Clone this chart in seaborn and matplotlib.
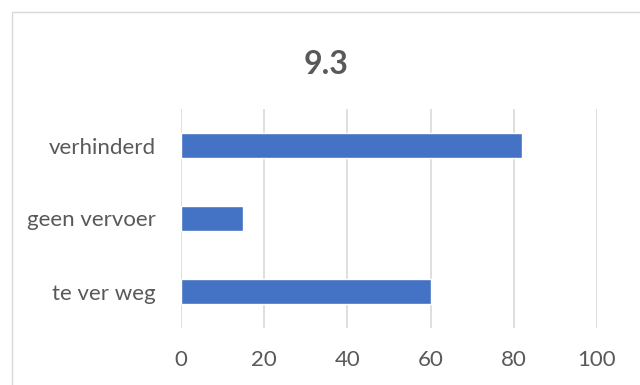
import matplotlib
matplotlib.use("Agg")
import matplotlib.pyplot as plt
import seaborn as sns
import pandas as pd
from matplotlib.patches import Rectangle

categories = ["verhinderd", "geen vervoer", "te ver weg"]
values = [82, 15, 60]
xticks = [0, 20, 40, 60, 80, 100]
title = "9.3"

sns.set_theme(style="white")
plt.rcParams['font.family'] = ['Lato', 'DejaVu Sans']

df = pd.DataFrame({"cat": categories, "val": values})

fig = plt.figure(figsize=(6.4, 3.85), dpi=100)
ax = fig.add_axes([181/640, 1-328/385, (597-181)/640, (328-109)/385])

sns.barplot(data=df, x="val", y="cat", orient="h", color="#4472C4",
            width=0.355, saturation=1, ax=ax, order=categories)

ax.set_xlim(0, 100)
ax.set_ylim(2.5, -0.5)
ax.set_xticks(xticks)
ax.set_xticklabels([str(t) for t in xticks])
ax.set_xlabel("")
ax.set_ylabel("")
for s in ax.spines.values():
    s.set_visible(False)
ax.grid(axis="x", color="#D9D9D9", linewidth=1.2)
ax.set_axisbelow(True)
ax.tick_params(axis="both", length=0, colors="#595959", labelsize=16)
ax.tick_params(axis="x", pad=16)
ax.tick_params(axis="y", pad=18)

fig.text(326/640, 1-65/385, title, ha="center", va="center",
         fontsize=23, fontweight="bold", color="#595959")

fig.patches.append(Rectangle((12/640, -0.1), 1.2, 1-12/385+0.1, transform=fig.transFigure,
                             fill=False, edgecolor="#D9D9D9", linewidth=1.0))

fig.savefig("out.png", dpi=100)
